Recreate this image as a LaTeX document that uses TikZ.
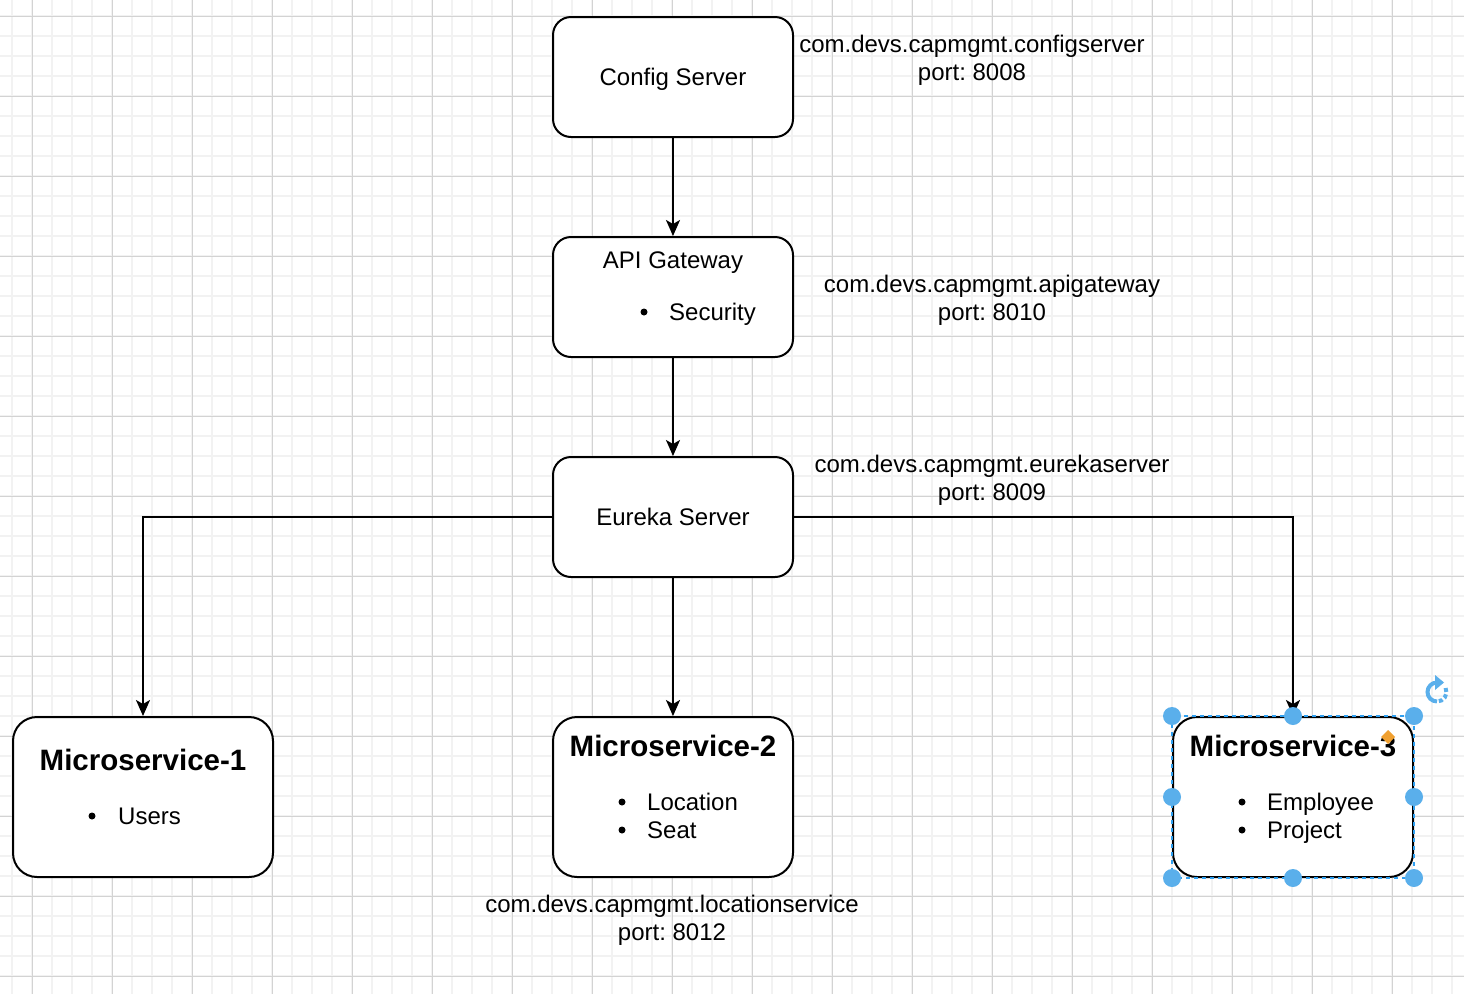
\documentclass[tikz,border=0pt]{standalone}
\usepackage{fontspec}
\setmainfont{Liberation Sans}
\usetikzlibrary{arrows.meta}
\definecolor{gridminor}{HTML}{F2F2F2}
\definecolor{gridmajor}{HTML}{D3D3D3}
\definecolor{selblue}{HTML}{2F9FEF}
\definecolor{handleblue}{HTML}{5AAFEB}
\definecolor{diamorange}{HTML}{F0A030}
\frenchspacing
\begin{document}
\begin{tikzpicture}[x=1pt,y=-1pt,
  box/.style={draw=black, line width=2pt, fill=white, inner sep=0pt, minimum width=240pt, minimum height=120pt, rounded corners=18pt},
  msbox/.style={box, minimum height=160pt, rounded corners=24pt},
  txt/.style={font=\fontsize{24}{28}\selectfont, inner sep=0pt, anchor=base},
  itm/.style={txt, anchor=base west},
  hdr/.style={font=\bfseries\fontsize{29.5}{34}\selectfont, inner sep=0pt, anchor=base},
  bul/.style={circle, fill=black, inner sep=0pt, minimum size=7pt},
  conn/.style={draw=black, line width=2pt, -{Stealth[length=16pt,width=14pt,inset=4pt]}},
  hnd/.style={circle, fill=handleblue, inner sep=0pt, minimum size=18pt}
]
\useasboundingbox (0,0) rectangle (1464,994);
\fill[white] (0,0) rectangle (1464,994);
% grid
\foreach \x in {12,32,...,1452} \draw[gridminor, line width=1.5pt] (\x,0) -- (\x,994);
\foreach \y in {16,36,...,976} \draw[gridminor, line width=1.5pt] (0,\y) -- (1464,\y);
\foreach \x in {32,112,...,1392} \draw[gridmajor, line width=1pt] (\x,0) -- (\x,994);
\foreach \y in {16,96,...,976} \draw[gridmajor, line width=1pt] (0,\y) -- (1464,\y);

% boxes
\node[box] (cfg) at (673,77) {};
\node[box] (api) at (673,297) {};
\node[box] (eur) at (673,517) {};
\node[msbox, minimum width=260pt] (ms1) at (143,797) {};
\node[msbox] (ms2) at (673,797) {};
\node[msbox] (ms3) at (1293,797) {};

% connectors
\draw[conn] (cfg.south) -- (api.north);
\draw[conn] (api.south) -- (eur.north);
\draw[conn] (eur.west) -| (ms1.north);
\draw[conn] (eur.south) -- (ms2.north);
\draw[conn] (eur.east) -| (ms3.north);

% box texts
\node[txt] (tcfg) at (673,85) {Config Server};
\node[txt] (tapi) at (673,268) {API Gateway};
\node[bul] (b1) at (644,312) {};
\node[itm] (tsec) at (669,320) {Security};
\node[txt] (teur) at (673,525) {Eureka Server};

\node[hdr] (h1) at (143,770.5) {Microservice-1};
\node[bul] (b2) at (92,816) {};
\node[itm] (tusr) at (118,824) {Users};

\node[hdr] (h2) at (673,756.5) {Microservice-2};
\node[bul] (b3) at (622,802) {};
\node[itm] (tloc) at (647,810) {Location};
\node[bul] (b4) at (622,830) {};
\node[itm] (tseat) at (647,838) {Seat};

\node[hdr] (h3) at (1293,756.5) {Microservice-3};
\node[bul] (b5) at (1242,802) {};
\node[itm] (temp) at (1267,810) {Employee};
\node[bul] (b6) at (1242,830) {};
\node[itm] (tprj) at (1267,838) {Project};

% outside labels
\node[txt] (l1a) at (972,52) {com.devs.capmgmt.configserver};
\node[txt] (l1b) at (972,80) {port: 8008};
\node[txt] (l2a) at (992,292) {com.devs.capmgmt.apigateway};
\node[txt] (l2b) at (992,320) {port: 8010};
\node[txt] (l3a) at (992,472) {com.devs.capmgmt.eurekaserver};
\node[txt] (l3b) at (992,500) {port: 8009};
\node[txt] (l4a) at (672,912) {com.devs.capmgmt.locationservice};
\node[txt] (l4b) at (672,940) {port: 8012};

% selection overlay on Microservice-3
\draw[selblue, line width=1.5pt, dash pattern=on 4pt off 4pt] (ms3.north west) rectangle (ms3.south east);
\foreach \a in {north west,north,north east,west,east,south west,south,south east}
  \node[hnd] at (ms3.\a) {};
\fill[diamorange] (1388,730) -- (1395,737) -- (1388,744) -- (1381,737) -- cycle;
\coordinate (rot) at (1437,692);
\draw[handleblue, line width=4pt, dash pattern=on 4pt off 2.5pt] (rot) ++(-25:9.5) arc (-25:90:9.5);
\draw[handleblue, line width=4pt] (rot) ++(90:9.5) arc (90:270:9.5);
\fill[handleblue] (1435,675) -- (1444,682.5) -- (1435,690) -- cycle;
\end{tikzpicture}
\end{document}
